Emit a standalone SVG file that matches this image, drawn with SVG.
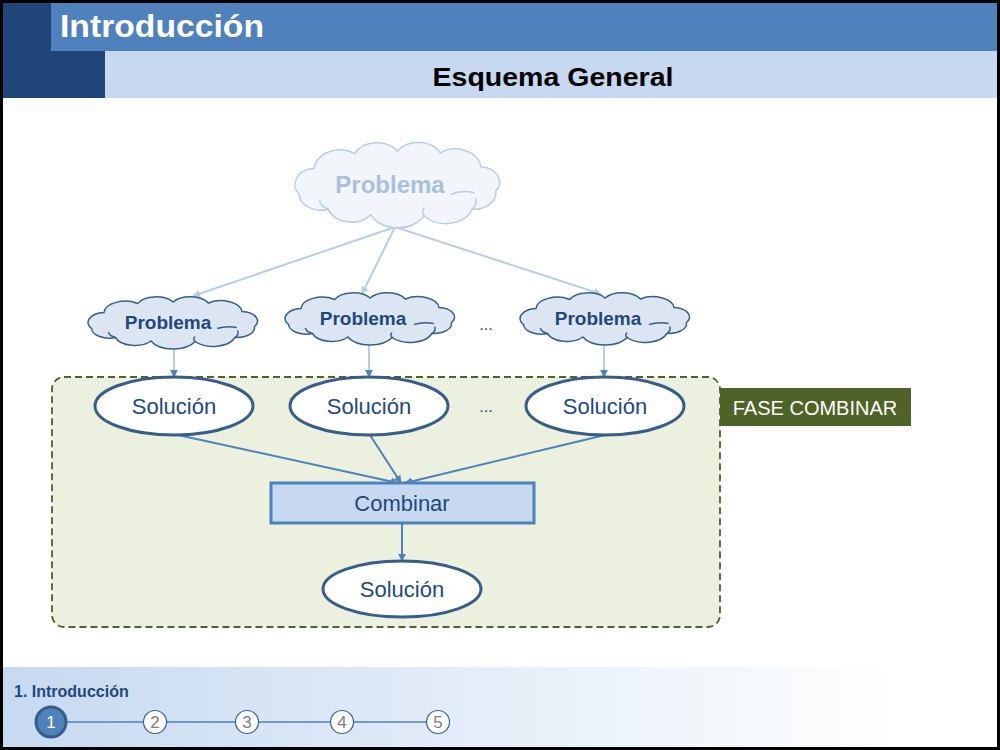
<svg xmlns="http://www.w3.org/2000/svg" xmlns:xlink="http://www.w3.org/1999/xlink" width="1000" height="750" viewBox="0 0 1000 750">
<defs>
<linearGradient id="foot" x1="0" y1="0" x2="1" y2="0">
<stop offset="0" stop-color="#C6D9F1"/>
<stop offset="0.9" stop-color="#FFFFFF"/>
</linearGradient>
<path id="cloud" vector-effect="non-scaling-stroke" d="M8,62 A20,20 0 0 1 22,30 A24,24 0 0 1 60,12 A23,23 0 0 1 100,9 A23,23 0 0 1 140,11 A24,24 0 0 1 178,28 A19,19 0 0 1 192,58 A20,20 0 0 1 170,80 A26,26 0 0 1 125,88 A28,28 0 0 1 75,87 A23,23 0 0 1 35,80 A20,20 0 0 1 8,62 Z"/>
<path id="curl" vector-effect="non-scaling-stroke" fill="none" d="M35,80 q-7,-3 -8,-11 M170,80 q5,-6 3,-14 M150,62 q10,-6 22,-2 M125,88 q-3,-5 0,-10"/>
<marker id="ab" viewBox="0 0 10 10" refX="9" refY="5" markerWidth="4" markerHeight="4" orient="auto" markerUnits="strokeWidth">
<path d="M0,0 L10,5 L0,10 z" fill="#4F81BD"/>
</marker>
<marker id="al" viewBox="0 0 10 10" refX="9" refY="5" markerWidth="4" markerHeight="4" orient="auto" markerUnits="strokeWidth">
<path d="M0,0 L10,5 L0,10 z" fill="#B9CDE5"/>
</marker>
</defs>
<style>
.t{font-family:"Liberation Sans",Arial,sans-serif}
.sc{fill:#DCE6F2;stroke:#385D8A;stroke-width:1.5}
.sc2{stroke:#385D8A;stroke-width:1.5}
.pt{font-family:"Liberation Sans",Arial,sans-serif;font-weight:bold;font-size:19px;fill:#1F497D;text-anchor:middle}
.el{fill:#FFFFFF;stroke:#385D8A;stroke-width:3}
.lab{font-family:"Liberation Sans",Arial,sans-serif;font-size:22px;fill:#1F497D;text-anchor:middle}
.con{stroke:#4F81BD;stroke-width:2;fill:none;marker-end:url(#ab)}
.lcon{stroke:#B9CDE5;stroke-width:2;fill:none}
.step{fill:#FFFFFF;stroke:#385D8A;stroke-width:1.2}
.stx{font-family:"Liberation Sans",Arial,sans-serif;font-size:17px;fill:#7F7F7F;text-anchor:middle}
</style>
<rect x="0" y="0" width="1000" height="750" fill="#000000"/>
<rect x="3" y="3" width="994" height="744" fill="#FFFFFF"/>
<g id="header">
<rect x="3" y="3" width="102" height="95" fill="#1F4579"/>
<rect x="51" y="3" width="946" height="48" fill="#4F81BD"/>
<rect x="105" y="51" width="892" height="47" fill="#C6D9F1"/>
<text class="t" x="60" y="37" font-size="31" font-weight="bold" fill="#FFFFFF" textLength="204" lengthAdjust="spacingAndGlyphs">Introducción</text>
<text class="t" x="553" y="86" font-size="25" font-weight="bold" fill="#000000" text-anchor="middle" textLength="241" lengthAdjust="spacingAndGlyphs">Esquema General</text>
</g>
<g id="fase">
<rect x="52" y="377" width="668" height="250" rx="12" fill="#EBF1DE" stroke="#4F6228" stroke-width="1.8" stroke-dasharray="7,4"/>
<rect x="720" y="388" width="191" height="38" fill="#4F6228"/>
<text class="t" x="815" y="415" font-size="20" fill="#FFFFFF" text-anchor="middle">FASE COMBINAR</text>
</g>
<g id="connectors">
<line class="lcon" x1="395" y1="227" x2="193" y2="296" marker-end="url(#al)"/>
<line class="lcon" x1="395" y1="227" x2="362" y2="294" marker-end="url(#al)"/>
<line class="lcon" x1="395" y1="227" x2="601" y2="294" marker-end="url(#al)"/>
<line class="lcon" x1="174" y1="349" x2="174" y2="377" marker-end="url(#ab)"/>
<line class="lcon" x1="369" y1="345" x2="369" y2="377" marker-end="url(#ab)"/>
<line class="lcon" x1="604" y1="345" x2="604" y2="377" marker-end="url(#ab)"/>
<line class="con" x1="178" y1="435" x2="398" y2="483"/>
<line class="con" x1="370" y1="435" x2="401" y2="483"/>
<line class="con" x1="605" y1="435" x2="405" y2="483"/>
<line class="con" x1="402" y1="523" x2="402" y2="561"/>
</g>
<g id="problema-main">
<use xlink:href="#cloud" transform="translate(290.7,143.8) scale(1.068,0.817)" fill="#F2F5FA" stroke="#B9CDE5" stroke-width="1.5"/>
<use xlink:href="#curl" transform="translate(290.7,143.8) scale(1.068,0.817)" stroke="#B9CDE5" stroke-width="1.5"/>
<text class="t" x="390" y="193" font-size="24" font-weight="bold" fill="#A9C0DC" text-anchor="middle">Problema</text>
</g>
<g id="problema-1">
<use xlink:href="#cloud" class="sc" transform="translate(84.5,297.5) scale(0.885,0.5)"/>
<use xlink:href="#curl" class="sc2" transform="translate(84.5,297.5) scale(0.885,0.5)"/>
<text class="pt" x="168" y="329">Problema</text>
</g>
<g id="problema-2">
<use xlink:href="#cloud" class="sc" transform="translate(281.5,293.5) scale(0.885,0.5)"/>
<use xlink:href="#curl" class="sc2" transform="translate(281.5,293.5) scale(0.885,0.5)"/>
<text class="pt" x="363" y="325">Problema</text>
</g>
<g id="dots">
<text class="lab" x="486" y="330" font-size="16" style="font-size:16px">...</text>
<text class="lab" x="486" y="412" font-size="16" style="font-size:16px">...</text>
</g>
<g id="problema-3">
<use xlink:href="#cloud" class="sc" transform="translate(516.5,293.5) scale(0.885,0.5)"/>
<use xlink:href="#curl" class="sc2" transform="translate(516.5,293.5) scale(0.885,0.5)"/>
<text class="pt" x="598" y="325">Problema</text>
</g>
<g id="solucion-1">
<ellipse class="el" cx="174" cy="406" rx="79" ry="29"/>
<text class="lab" x="174" y="414">Solución</text>
</g>
<g id="solucion-2">
<ellipse class="el" cx="369" cy="406" rx="79" ry="29"/>
<text class="lab" x="369" y="414">Solución</text>
</g>
<g id="solucion-3">
<ellipse class="el" cx="605" cy="406" rx="79" ry="29"/>
<text class="lab" x="605" y="414">Solución</text>
</g>
<g id="combinar">
<rect x="271" y="483" width="263" height="40" fill="#C6D9F1" stroke="#4F81BD" stroke-width="3"/>
<text class="lab" x="402" y="511">Combinar</text>
</g>
<g id="solucion-final">
<ellipse class="el" cx="402" cy="589" rx="79" ry="28"/>
<text class="lab" x="402" y="597">Solución</text>
</g>
<g id="footer">
<rect x="3" y="667" width="994" height="80" fill="url(#foot)"/>
<text class="t" x="14" y="697" font-size="16" font-weight="bold" fill="#1F497D">1. Introducción</text>
<line x1="51" y1="722" x2="438" y2="722" stroke="#4F81BD" stroke-width="1.5"/>
<circle cx="51" cy="722" r="15" fill="#4F81BD" stroke="#385D8A" stroke-width="3"/>
<text class="stx" x="51" y="728" style="fill:#FFFFFF">1</text>
<circle class="step" cx="155" cy="722" r="11.5"/>
<text class="stx" x="155" y="728">2</text>
<circle class="step" cx="247" cy="722" r="11.5"/>
<text class="stx" x="247" y="728">3</text>
<circle class="step" cx="342" cy="722" r="11.5"/>
<text class="stx" x="342" y="728">4</text>
<circle class="step" cx="438" cy="722" r="11.5"/>
<text class="stx" x="438" y="728">5</text>
</g>
</svg>
